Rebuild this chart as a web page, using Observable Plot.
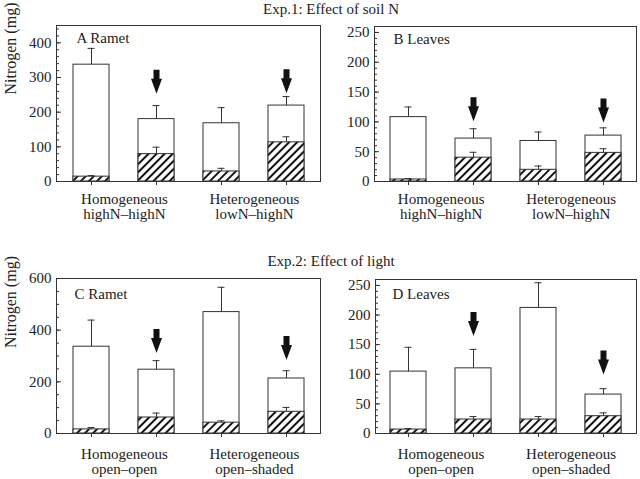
<!DOCTYPE html>
<html><head><meta charset="utf-8">
<script src="https://cdn.jsdelivr.net/npm/d3@7"></script>
<script src="https://cdn.jsdelivr.net/npm/@observablehq/plot@0.6"></script>
<style>
body{margin:0;background:#fff;}
#fig{position:relative;width:640px;height:479px;overflow:hidden;font-family:'Liberation Serif','Times New Roman',serif;color:#222;}
.title{position:absolute;left:131px;width:400px;text-align:center;font-size:15px;line-height:15px;}
.panel{position:absolute;}
</style></head><body>
<svg width="0" height="0" style="position:absolute">
  <defs>
    <pattern id="hatch" width="5.7" height="5.7" patternUnits="userSpaceOnUse" patternTransform="rotate(45)">
      <rect width="5.7" height="5.7" fill="white"></rect>
      <line x1="2.85" y1="-1" x2="2.85" y2="6.7" stroke="#111" stroke-width="2"></line>
    </pattern>
  </defs>
</svg>
<div id="fig">
  <div class="title" style="top:2px">Exp.1: Effect of soil N</div>
  <div class="title" style="top:254px">Exp.2: Effect of light</div>
</div>
<script>
// ---- data ----
const bars = ["Homogeneous 1", "Homogeneous 2", "Heterogeneous 1", "Heterogeneous 2"];
const arrowBars = ["Homogeneous 2", "Heterogeneous 2"];
const groupsExp1 = ["Homogeneous\nhighN–highN", "Heterogeneous\nlowN–highN"];
const groupsExp2 = ["Homogeneous\nopen–open", "Heterogeneous\nopen–shaded"];

// Panel A: Ramet, Exp.1
const totalA = [337, 180, 168, 219];
const totalErrA = [47, 39, 45, 26];
const partA = [14, 79, 29, 113];
const partErrA = [3, 20, 9, 16];
const arrowA = [288, 289];
const ticksA = [0, 100, 200, 300, 400];
const minorA = d3.range(0, 451, 20);

// Panel B: Leaves, Exp.1
const totalB = [108, 72, 68, 77];
const totalErrB = [17, 16.5, 15, 13];
const partB = [3.4, 40, 19.6, 48];
const partErrB = [1.6, 9, 6.4, 7];
const arrowB = [121, 119];
const ticksB = [0, 50, 100, 150, 200, 250];
const minorB = d3.range(0, 261, 10);

// Panel C: Ramet, Exp.2
const totalC = [336, 247, 470, 213];
const totalErrC = [103, 35, 96, 30];
const partC = [16, 62, 42, 84];
const partErrC = [7, 17, 7, 17];
const arrowC = [358, 331];
const ticksC = [0, 200, 400, 600];
const minorC = d3.range(0, 601, 50);

// Panel D: Leaves, Exp.2
const totalD = [104.5, 110, 212, 65.7];
const totalErrD = [41, 32, 42.5, 10];
const partD = [6.7, 23.6, 23.6, 29.2];
const partErrD = [1.7, 5, 5, 5.6];
const arrowD = [185, 120];
const ticksD = [0, 50, 100, 150, 200, 250];
const minorD = d3.range(0, 261, 10);

// ---- drawing ----
const INK = "#333";
const PAD_IN = 0.45, PAD_OUT = 0.23;
const FONT = "'Liberation Serif','Times New Roman',serif";

const arrowSymbol = {
  draw(ctx) {
    ctx.moveTo(-3, -12);
    ctx.lineTo(3, -12);
    ctx.lineTo(3, -3);
    ctx.lineTo(5.5, -3);
    ctx.lineTo(0, 12);
    ctx.lineTo(-5.5, -3);
    ctx.lineTo(-3, -3);
    ctx.closePath();
  }
};

function panel(cfg) {
  const rows = bars.map((b, i) => ({bar: b, total: cfg.total[i], totalErr: cfg.totalErr[i], part: cfg.part[i], partErr: cfg.partErr[i]}));
  const arrows = arrowBars.map((b, i) => ({bar: b, y: cfg.arrowY[i]}));
  const groupRows = cfg.groups.map((g, i) => ({bar: bars[i * 2], label: g}));
  const fw = cfg.width - cfg.marginLeft - cfg.marginRight;
  const step = fw / (bars.length - PAD_IN + 2 * PAD_OUT);
  const marks = [
    Plot.barY(rows, {x: "bar", y: "total", fill: "white", stroke: INK}),
    Plot.barY(rows, {x: "bar", y: "part", fill: "url(#hatch)", stroke: INK}),
    Plot.ruleX(rows, {x: "bar", y1: "total", y2: d => d.total + d.totalErr, stroke: INK}),
    Plot.tickY(rows, {x: "bar", y: d => d.total + d.totalErr, stroke: INK, inset: 14.5}),
    Plot.ruleX(rows, {x: "bar", y1: "part", y2: d => d.part + d.partErr, stroke: INK}),
    Plot.tickY(rows, {x: "bar", y: d => d.part + d.partErr, stroke: INK, inset: 14.5}),
    Plot.dot(arrows, {x: "bar", y: "y", symbol: arrowSymbol, r: 5, fill: "#111", stroke: "none"}),
    Plot.axisY({ticks: cfg.minor, tickSize: -3, tickFormat: () => "", stroke: INK, label: null}),
    Plot.axisY({ticks: cfg.ticks, tickSize: -5, tickFormat: () => "", stroke: INK, label: null}),
    Plot.axisY({ticks: cfg.ticks, tickSize: 0, tickPadding: 5, label: null, fill: "#222"}),
    Plot.axisX({tickSize: 4, tickFormat: () => "", stroke: INK, label: null}),
    Plot.text(groupRows, {x: "bar", text: "label", frameAnchor: "bottom", dx: step / 2, dy: cfg.groupDy, lineAnchor: "top", lineHeight: 1, fill: "#222"}),
    Plot.text([cfg.label], {frameAnchor: "top-left", dx: cfg.labelDx, dy: cfg.labelDy, textAnchor: "start", lineAnchor: "top", fill: "#222"}),
    Plot.frame({stroke: INK})
  ];
  if (cfg.ylabel) {
    marks.push(Plot.text([cfg.ylabel], {frameAnchor: "left", rotate: -90, dx: -46, dy: cfg.ylabelDy, fontSize: 16, fill: "#222"}));
  }
  const svg = Plot.plot({
    width: cfg.width,
    height: cfg.height,
    marginLeft: cfg.marginLeft,
    marginRight: cfg.marginRight,
    marginTop: cfg.marginTop,
    marginBottom: cfg.marginBottom,
    style: {fontFamily: FONT, fontSize: "15px", background: "transparent", color: "#222", overflow: "visible"},
    x: {type: "band", domain: bars, paddingInner: PAD_IN, paddingOuter: PAD_OUT, label: null},
    y: {domain: cfg.domain, label: null},
    marks
  });
  svg.classList.add("panel");
  svg.style.left = cfg.left + "px";
  svg.style.top = cfg.top + "px";
  svg.style.position = "absolute";
  document.getElementById("fig").appendChild(svg);
}

panel({left: 0, top: 0, width: 330, height: 240, marginLeft: 56, marginRight: 10, marginTop: 25, marginBottom: 59,
  domain: [0, 450], total: totalA, totalErr: totalErrA, part: partA, partErr: partErrA, arrowY: arrowA,
  ticks: ticksA, minor: minorA, groups: groupsExp1, groupDy: 12, label: "A Ramet", labelDx: 20, labelDy: 7,
  ylabel: "Nitrogen (mg)", ylabelDy: -9});

panel({left: 320, top: 0, width: 320, height: 240, marginLeft: 54, marginRight: 4, marginTop: 26, marginBottom: 59,
  domain: [0, 260], total: totalB, totalErr: totalErrB, part: partB, partErr: partErrB, arrowY: arrowB,
  ticks: ticksB, minor: minorB, groups: groupsExp1, groupDy: 12, label: "B Leaves", labelDx: 19, labelDy: 7});

panel({left: 0, top: 240, width: 330, height: 239, marginLeft: 56, marginRight: 10, marginTop: 38, marginBottom: 46,
  domain: [0, 600], total: totalC, totalErr: totalErrC, part: partC, partErr: partErrC, arrowY: arrowC,
  ticks: ticksC, minor: minorC, groups: groupsExp2, groupDy: 15, label: "C Ramet", labelDx: 18, labelDy: 10,
  ylabel: "Nitrogen (mg)", ylabelDy: -8});

panel({left: 320, top: 240, width: 320, height: 239, marginLeft: 55, marginRight: 4, marginTop: 39, marginBottom: 46,
  domain: [0, 260], total: totalD, totalErr: totalErrD, part: partD, partErr: partErrD, arrowY: arrowD,
  ticks: ticksD, minor: minorD, groups: groupsExp2, groupDy: 15, label: "D Leaves", labelDx: 17, labelDy: 9});
</script>
</body></html>
